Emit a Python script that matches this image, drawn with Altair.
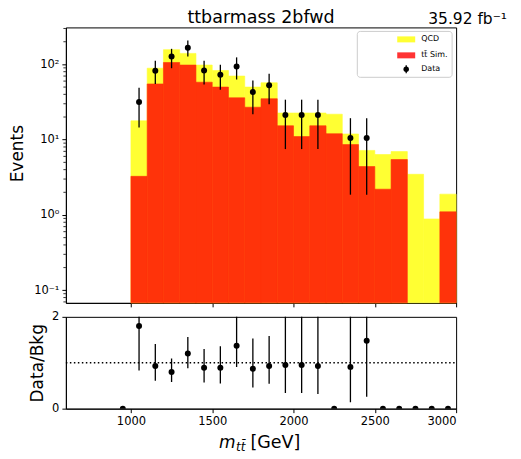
import altair as alt
import pandas as pd

FONT = "DejaVu Sans"

# histogram bins (lower edges, 100 GeV wide)
bin_lo = [1000, 1100, 1200, 1300, 1400, 1500, 1600, 1700, 1800, 1900,
          2000, 2100, 2200, 2300, 2400, 2500, 2600, 2700, 2800, 2900]
# stacked top (QCD + ttbar) and ttbar alone
bkg_total = [17.8, 89, 157, 140, 98, 83, 70, 50, 57, 22.6,
             22.6, 22.6, 21.8, 11.9, 7.2, 6.35, 6.95, 3.47, 0.885, 1.89]
ttbar_sim = [3.26, 55, 106, 98, 58, 50, 36, 27, 35, 15.3,
             11, 15.3, 12, 8.6, 4.4, 2.2, 5.45, 0, 0, 1.1]

# data points
data_x = [1050, 1150, 1250, 1350, 1450, 1550, 1650, 1750, 1850, 1950, 2050, 2150, 2350, 2450]
data_val = [31.6, 82.6, 127, 167, 83, 73, 94, 43, 53, 21.3, 21.3, 21.3, 10.5, 10.5]
data_hi = [48.8, 112, 161, 207, 112, 99, 124, 61, 75, 34, 34, 34, 19.3, 19.3]
data_lo = [14.5, 55, 89, 127, 54, 46, 63, 21.8, 29.5, 7.5, 7.5, 7.5, 1.86, 1.86]

# ratio panel
ratio_x = [950, 1050, 1150, 1250, 1350, 1450, 1550, 1650, 1750, 1850, 1950,
           2050, 2150, 2250, 2350, 2450, 2550, 2650, 2750, 2850, 2950]
ratio_val = [0, 1.80, 0.93, 0.80, 1.20, 0.89, 0.89, 1.37, 0.87, 0.93, 0.95,
             0.95, 0.93, 0, 0.91, 1.48, 0, 0, 0, 0, 0]
ratio_hi = [None, 2.7, 1.41, 1.09, 1.56, 1.30, 1.36, 2.05, 1.53, 1.58, 2.4,
            2.4, 2.4, None, 2.6, 2.9, None, None, None, None, None]
ratio_lo = [None, 0.83, 0.61, 0.58, 0.88, 0.57, 0.55, 0.91, 0.46, 0.54, 0.34,
            0.34, 0.32, None, 0.14, 0.26, None, None, None, None, None]

W, H, RH = 391, 276, 92
YELLOW = "#ffff33"
RED = "#ff330a"

hist = pd.DataFrame({"lo": bin_lo, "total": bkg_total, "tt": ttbar_sim})
hist["hi"] = hist["lo"] + 100
dat = pd.DataFrame({"x": data_x, "v": data_val, "hi": data_hi, "lo": data_lo})
rat = pd.DataFrame({"x": ratio_x, "v": ratio_val, "hi": ratio_hi, "lo": ratio_lo})
minor = pd.DataFrame({"v": [m * 10.0 ** e for e in range(-2, 3) for m in range(2, 10)
                            if 0.068 <= m * 10.0 ** e <= 310]})
one = pd.DataFrame({"a": [0]})

xscale = alt.Scale(domain=[600, 3000], nice=False, zero=False)
yscale = alt.Scale(type="log", domain=[0.068, 310], nice=False)
xticks = [1000, 1500, 2000, 2500, 3000]

x_top = alt.X("lo:Q", scale=xscale, title=None,
              axis=alt.Axis(values=xticks, labels=False, grid=False))
y_top = alt.Y("total:Q", scale=yscale, title="Events",
              axis=alt.Axis(values=[0.1, 1, 10, 100], grid=False,
                            labelExpr="datum.value >= 100 ? '10²' : datum.value >= 10 ? '10¹' : datum.value >= 1 ? '10⁰' : '10⁻¹'",
                            titleFontSize=17, titleFontWeight="normal", titleX=-39, titleY=126))

qcd = alt.Chart(hist).mark_rect(color=YELLOW, stroke=YELLOW, strokeWidth=0.6).encode(
    x=x_top, x2="hi:Q", y=y_top, y2=alt.value(H))
tt = alt.Chart(hist[hist["tt"] > 0]).mark_rect(color=RED, stroke=RED, strokeWidth=0.6).encode(
    x=alt.X("lo:Q", scale=xscale), x2="hi:Q",
    y=alt.Y("tt:Q", scale=yscale), y2=alt.value(H))
err = alt.Chart(dat).mark_rule(color="black", strokeWidth=1.3).encode(
    x=alt.X("x:Q", scale=xscale), y=alt.Y("lo:Q", scale=yscale), y2="hi:Q")
pts = alt.Chart(dat).mark_circle(color="black", size=36, opacity=1).encode(
    x=alt.X("x:Q", scale=xscale), y=alt.Y("v:Q", scale=yscale))
minors = alt.Chart(minor).mark_rule(color="black", strokeWidth=0.8).encode(
    y=alt.Y("v:Q", scale=yscale), x=alt.value(0), x2=alt.value(-2.5))

# legend box
leg_box = alt.Chart(one).mark_rect(fill="white", stroke="#cccccc", strokeWidth=1, cornerRadius=3).encode(
    x=alt.value(292), x2=alt.value(387), y=alt.value(4), y2=alt.value(50))
leg_qcd = alt.Chart(one).mark_rect(color=YELLOW).encode(
    x=alt.value(332), x2=alt.value(350), y=alt.value(9), y2=alt.value(15))
leg_tt = alt.Chart(one).mark_rect(color="#ff3333").encode(
    x=alt.value(332), x2=alt.value(350), y=alt.value(25), y2=alt.value(31))
leg_bar = alt.Chart(one).mark_rule(color="black", strokeWidth=1.3).encode(
    x=alt.value(341), y=alt.value(38), y2=alt.value(46))
leg_dot = alt.Chart(one).mark_circle(color="black", size=30, opacity=1).encode(
    x=alt.value(341), y=alt.value(42))
leg_txt = [
    alt.Chart(one).mark_text(text=t, font=FONT, fontSize=8, align="left", baseline="middle").encode(
        x=alt.value(356), y=alt.value(yy))
    for t, yy in [("QCD", 12), ("tt̄ Sim.", 28), ("Data", 42)]
]

title = alt.Chart(one).mark_text(text="ttbarmass 2bfwd", font=FONT, fontSize=17.5,
                                 align="center", baseline="alphabetic").encode(
    x=alt.value(W / 2), y=alt.value(-4))
lumi = alt.Chart(one).mark_text(text="35.92 fb⁻¹", font=FONT, fontSize=15.5,
                                align="right", baseline="alphabetic").encode(
    x=alt.value(442), y=alt.value(-3))

top = alt.layer(qcd, tt, err, pts, minors, leg_box, leg_qcd, leg_tt, leg_bar, leg_dot,
                *leg_txt, title, lumi).properties(width=W, height=H)

# ratio panel
x_bot = alt.X("x:Q", scale=xscale, title=None,
              axis=alt.Axis(values=xticks, grid=False, format="d"))
y_bot = alt.Y("v:Q", scale=alt.Scale(domain=[0, 2], nice=False), title="Data/Bkg",
              axis=alt.Axis(values=[0, 1, 2], grid=False, format="d",
                            titleFontSize=17, titleFontWeight="normal", titleX=-19, titleY=RH / 2))

r_pts = alt.Chart(rat).mark_circle(color="black", size=36, opacity=1, clip=True).encode(x=x_bot, y=y_bot)
r_err = alt.Chart(rat.dropna()).mark_rule(color="black", strokeWidth=1.3, clip=True).encode(
    x=alt.X("x:Q", scale=xscale), y=alt.Y("lo:Q", scale=alt.Scale(domain=[0, 2])), y2="hi:Q")
r_line = alt.Chart(one).mark_rule(color="black", strokeWidth=1.5, strokeDash=[1.5, 2.5]).encode(
    y=alt.datum(1), x=alt.value(0), x2=alt.value(W))
xt_m = alt.Chart(one).mark_text(text="m", font=FONT, fontSize=17, fontStyle="italic",
                                align="left", baseline="alphabetic").encode(x=alt.value(153.5), y=alt.value(131.5))
xt_sub = alt.Chart(one).mark_text(text="tt̄", font=FONT, fontSize=12, fontStyle="italic",
                                  align="left", baseline="alphabetic").encode(x=alt.value(170.5), y=alt.value(134))
xt_gev = alt.Chart(one).mark_text(text="[GeV]", font=FONT, fontSize=17.5,
                                  align="left", baseline="alphabetic").encode(x=alt.value(185), y=alt.value(131.5))

bottom = alt.layer(r_line, r_err, r_pts, xt_m, xt_sub, xt_gev).properties(width=W, height=RH)

chart = (
    alt.vconcat(top, bottom, spacing=2)
    .properties(padding={"left": 0, "top": 0, "right": 5, "bottom": 5})
    .configure_view(stroke="black", strokeWidth=1)
    .configure_axis(domainColor="black", tickColor="black", tickSize=4, labelPadding=3,
                    labelFont=FONT, labelFontSize=11.5, labelColor="black",
                    titleFont=FONT, titleColor="black")
)

chart.save("out.html", embed_options={"renderer": "svg", "actions": False})
